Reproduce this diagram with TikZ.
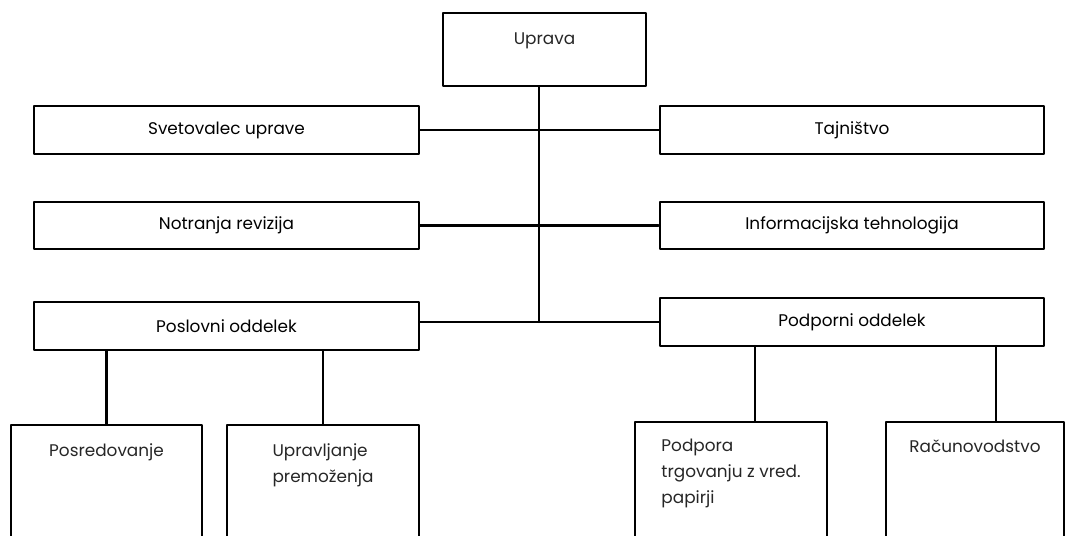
\documentclass[tikz,border=0pt]{standalone}
\usepackage{fontspec}
\setmainfont{Poppins}
\usetikzlibrary{positioning}
\newcommand{\orgfont}{\fontsize{9.6pt}{14.7pt}\selectfont}

\begin{document}
\begin{tikzpicture}[x=0.02cm, y=-0.02cm, line cap=round, line join=round,
    box/.style={draw, line width=1.15pt, inner sep=0pt, font=\orgfont},
    wide/.style={box, minimum width=7.7cm, minimum height=0.95cm},
    tall/.style={box, minimum width=3.84cm, minimum height=2.7cm},
    txt/.style={inner sep=0pt, align=left, font=\orgfont, text=black!85}]
    \clip (0,0) rectangle (1065,536);

    % management
    \node[box, minimum width=4.06cm, minimum height=1.46cm] (upr) at (544.5,49.5) {};
    \node[txt, below=0.4cm of upr.north] (uprT) {Uprava};

    % staff units, left and right
    \node[wide] (svet) at (226.5,130)   {Svetovalec uprave};
    \node[wide] (tajn) at (852,130)     {Tajništvo};
    \node[wide] (notr) at (226.5,225.5) {Notranja revizija};
    \node[wide] (info) at (852,225.5)   {Informacijska tehnologija};
    \node[wide] (posl) at (226.5,326)   {Poslovni oddelek};
    \node[wide] (podp) at (852,322)     {Podporni oddelek};

    % lower level, boxes run off the bottom
    \node[tall, minimum width=3.82cm] (posr) at (106.5,492.5) {};
    \node[tall] (upra) at (323,492.5) {};
    \node[tall] (podr) at (731,489.5) {};
    \node[tall, minimum width=3.56cm] (racu) at (975,489.5) {};
    \node[txt, below=0.38cm of posr.north] (posrT) {Posredovanje};
    \node[txt, below=0.38cm of upra.north] (upraT) {Upravljanje\\premoženja};
    \node[txt, below=0.36cm of podr.north] (podrT) {Podpora\\trgovanju z vred.\\papirji};
    \node[txt, below=0.36cm of racu.north] (racuT) {Računovodstvo};

    % spine
    \coordinate (spine) at (539,322);
    \coordinate (pL) at (755,346);
    \coordinate (pR) at (996,346);

    \begin{scope}[line width=1.15pt]
    \draw (upr.south -| spine) -- (spine);
    \draw (svet.east) -- (tajn.west);
    \draw (notr.east) -- (info.west);
    \draw (posl.east |- podp.west) -- (podp.west);
    % branches
    \draw (posl.south -| posr.north) -- (posr.north);
    \draw (posl.south -| upra.north) -- (upra.north);
    \draw (pL) -- (pL |- podr.north);
    \draw (pR) -- (pR |- racu.north);
    \end{scope}
\end{tikzpicture}
\end{document}
